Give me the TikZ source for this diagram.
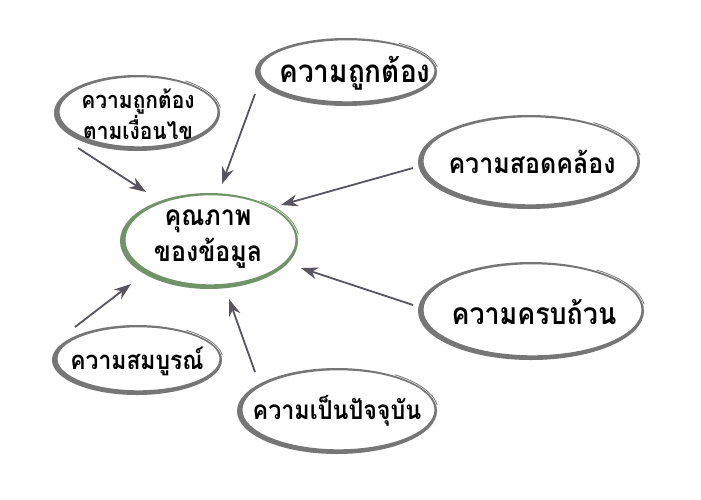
\documentclass[tikz,border=0pt]{standalone}
\usepackage{fontspec}
\newfontfamily\thai[Script=Thai]{Loma}
\usetikzlibrary{arrows.meta,calc}
\definecolor{ringgray}{RGB}{118,118,118}
\definecolor{ringgreen}{RGB}{112,148,104}
\definecolor{arrgray}{RGB}{88,84,96}
\tikzset{
  txt/.style={text=black, inner sep=0pt, align=center},
  arr/.style={draw=arrgray, line width=1.8pt, -{Stealth[length=17pt,width=12pt]}}
}
\newcommand\tall[1]{\scalebox{1}[1.12]{#1}}
\newcommand\brushring[4]{%
  \fill[#4,even odd rule] (#1) ellipse[x radius=#2pt, y radius=#3pt]
    ([shift={(1.5pt,1.2pt)}]#1) ellipse[x radius=#2pt-4pt, y radius=#3pt-3.5pt];
  \draw[#4, line width=0.8pt] ($(#1)+(8:#2pt+1.2pt and #3pt+1.2pt)$)
    arc[start angle=8, end angle=55, x radius=#2pt+1.2pt, y radius=#3pt+1.2pt];}
\begin{document}
\begin{tikzpicture}[x=1pt,y=-1pt]
\useasboundingbox (0,0) rectangle (701,499);
\fill[white] (0,0) rectangle (701,499);
% nodes
\node[txt, font=\thai\bfseries\fontsize{25}{36}\selectfont] (c) at (208,239) {\tall{คุณภาพ}\\\tall{ของข้อมูล}};
\node[txt, font=\thai\bfseries\fontsize{21}{22.5}\selectfont] (tl) at (138,114) {\tall{ความถูกต้อง}\\\tall{ตามเงื่อนไข}};
\node[txt, font=\thai\bfseries\fontsize{28}{30}\selectfont] (t) at (355,73) {\tall{ความถูกต้อง}};
\node[txt, font=\thai\bfseries\fontsize{25}{30}\selectfont] (rt) at (532,162) {\tall{ความสอดคล้อง}};
\node[txt, font=\thai\bfseries\fontsize{26.8}{30}\selectfont] (rb) at (534,312) {\tall{ความครบถ้วน}};
\node[txt, font=\thai\bfseries\fontsize{22.9}{30}\selectfont] (bl) at (137,361) {\tall{ความสมบูรณ์}};
\node[txt, font=\thai\bfseries\fontsize{23.3}{30}\selectfont] (b) at (337,411) {\tall{ความเป็นปัจจุบัน}};
% rings
\coordinate (cc) at (209,241);
\coordinate (tlc) at (137,113);
\coordinate (tc) at (346,72);
\coordinate (rtc) at (529,162);
\coordinate (rbc) at (531,311);
\coordinate (blc) at (137,360);
\coordinate (bc) at (337,411);
\brushring{cc}{89}{48}{ringgreen}
\brushring{tlc}{83}{38}{ringgray}
\brushring{tc}{91}{34}{ringgray}
\brushring{rtc}{111}{47}{ringgray}
\brushring{rbc}{113}{49}{ringgray}
\brushring{blc}{85}{35}{ringgray}
\brushring{bc}{100}{43}{ringgray}
% arrows
\coordinate (s1) at (78,148); \coordinate (e1) at (146,192);
\coordinate (s2) at (255,94); \coordinate (e2) at (222,184);
\coordinate (s3) at (413,168); \coordinate (e3) at (281,205);
\coordinate (s4) at (413,305); \coordinate (e4) at (301,268);
\coordinate (s5) at (75,327); \coordinate (e5) at (131,284);
\coordinate (s6) at (255,372); \coordinate (e6) at (229,299);
\draw[arr] (s1) -- (e1);
\draw[arr] (s2) -- (e2);
\draw[arr] (s3) -- (e3);
\draw[arr] (s4) -- (e4);
\draw[arr] (s5) -- (e5);
\draw[arr] (s6) -- (e6);
\end{tikzpicture}
\end{document}
